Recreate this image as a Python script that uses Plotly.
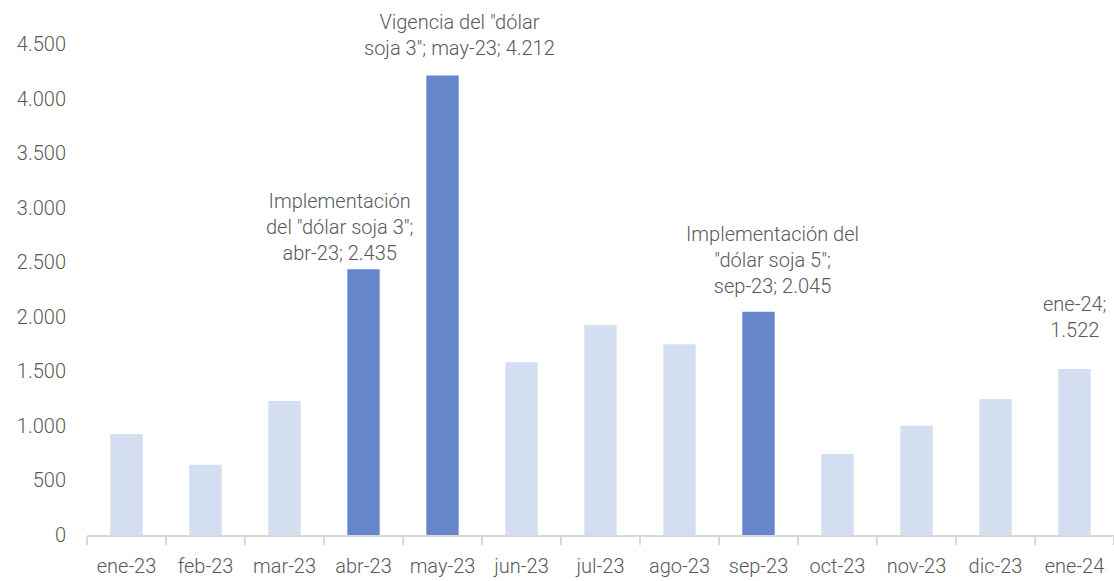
import plotly.graph_objects as go

categories = ["ene-23", "feb-23", "mar-23", "abr-23", "may-23", "jun-23", "jul-23",
              "ago-23", "sep-23", "oct-23", "nov-23", "dic-23", "ene-24"]
values = [926, 644, 1228, 2435, 4212, 1583, 1925, 1748, 2045, 742, 1002, 1247, 1522]
highlighted = ["abr-23", "may-23", "sep-23"]
y_ticks = [0, 500, 1000, 1500, 2000, 2500, 3000, 3500, 4000, 4500]

notes = {
    "abr-23": 'Implementación<br>del "dólar soja 3";<br>abr-23; ',
    "may-23": 'Vigencia del "dólar<br>soja 3"; may-23; ',
    "sep-23": 'Implementación del<br>"dólar soja 5";<br>sep-23; ',
    "ene-24": 'ene-24;<br>',
}
note_xshift = {"abr-23": -24, "may-23": 17, "sep-23": 14, "ene-24": 0}
note_yshift = {"abr-23": 2, "may-23": 13, "sep-23": 12, "ene-24": 25}

DARK = "#6586CB"
LIGHT = "#D3DFF1"
TEXT = "#595959"
FONT = "Roboto"
WEIGHT = 300

def fmt(v):
    return f"{v:,}".replace(",", ".")

colors = [DARK if c in highlighted else LIGHT for c in categories]

fig = go.Figure(go.Bar(x=categories, y=values, marker_color=colors, marker_line_width=0,
                       hoverinfo="x+y"))

annotations = []
for c, v in zip(categories, values):
    if c in notes:
        annotations.append(dict(
            x=c, y=v, xref="x", yref="y", text=notes[c] + fmt(v),
            showarrow=False, yanchor="bottom", xanchor="center",
            xshift=note_xshift[c], yshift=note_yshift[c],
            font=dict(family=FONT, size=20, color=TEXT, weight=WEIGHT), align="center",
        ))

fig.update_layout(
    width=1114, height=581,
    margin=dict(l=87, r=0, t=44, b=46),
    plot_bgcolor="white", paper_bgcolor="white",
    bargap=0.59,
    separators=",.",
    font=dict(family=FONT, size=20, color=TEXT, weight=WEIGHT),
    showlegend=False,
    annotations=annotations,
    xaxis=dict(
        showline=True, linecolor="#D9D9D9", linewidth=2,
        ticks="outside", tickson="boundaries", ticklen=8, tickcolor="#D9D9D9", tickwidth=2,
        showgrid=False, ticklabelstandoff=12,
        tickfont=dict(family=FONT, size=20, color=TEXT, weight=WEIGHT),
    ),
    yaxis=dict(
        range=[0, 4500], tickvals=y_ticks, ticktext=[fmt(t) for t in y_ticks],
        showgrid=False, zeroline=False, showline=False,
        ticklabelstandoff=20, tickfont=dict(family=FONT, size=20, color=TEXT, weight=WEIGHT),
    ),
)

fig.write_html(
    "out.html",
    config={"displayModeBar": False},
    post_script="document.body.style.margin='0';document.body.style.overflow='hidden';",
)
